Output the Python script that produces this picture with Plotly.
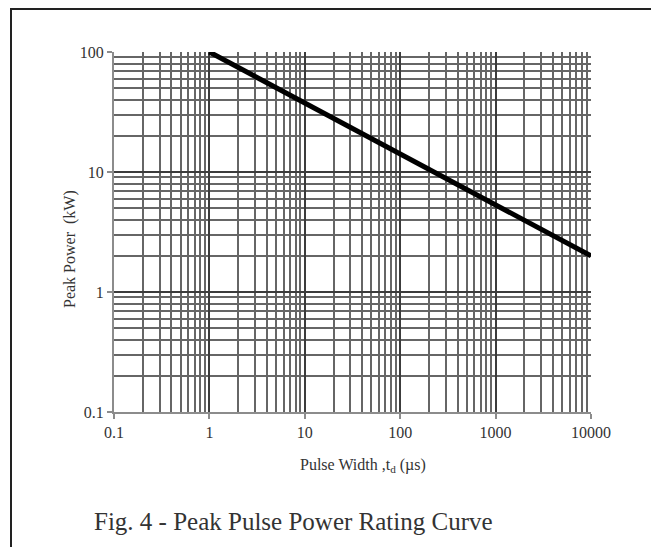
import plotly.graph_objects as go

# Data
pulse_width_us = [1, 10000]
peak_power_kw = [100, 2]
x_tick_vals = [0.1, 1, 10, 100, 1000, 10000]
x_tick_text = ["0.1", "1", "10", "100", "1000", "10000"]
y_tick_vals = [0.1, 1, 10, 100]
y_tick_text = ["0.1", "1", "10", "100"]

FONT = "Liberation Serif"
OFF = 8  # default page body margin
W, H = 659 - OFF, 547 - OFF
# target plot-area edges in page pixels
L, R, T, B = 114, 591, 52, 412

fig = go.Figure()
fig.add_trace(go.Scatter(
    x=pulse_width_us, y=peak_power_kw, mode="lines",
    line=dict(color="black", width=5), showlegend=False, hoverinfo="skip"))

grid_common = dict(
    type="log", showgrid=True, gridcolor="#3c3c3c", gridwidth=2,
    showline=True, linecolor="#8c8c8c", linewidth=2,
    ticks="outside", ticklen=5, tickcolor="#8c8c8c", tickwidth=2,
    tickfont=dict(family=FONT, size=16, color="#333"),
    zeroline=False, dtick=1,
    minor=dict(dtick="D1", showgrid=True, gridcolor="#666666", gridwidth=2, ticks=""),
)

fig.update_layout(
    width=W, height=H,
    margin=dict(l=L - OFF, r=W - (R - OFF), t=T - OFF, b=H - (B - OFF), pad=0),
    paper_bgcolor="white", plot_bgcolor="white",
    xaxis=dict(range=[-1, 4], tickvals=x_tick_vals, ticktext=x_tick_text, **grid_common),
    yaxis=dict(range=[-1, 2], tickvals=y_tick_vals, ticktext=y_tick_text, **grid_common),
    showlegend=False,
)

pw = R - L
ph = B - T
def px(xp):
    return (xp - L) / pw
def py(yp):
    return (B - yp) / ph

# outer frame
fig.add_shape(type="rect", xref="paper", yref="paper",
              x0=px(11), x1=px(653), y0=py(600), y1=py(9),
              line=dict(color="#222", width=2), layer="below")

fig.add_annotation(xref="paper", yref="paper", x=px(363), y=py(466),
                   text="Pulse Width ,t<sub>d</sub> (µs)", showarrow=False,
                   font=dict(family=FONT, size=16, color="#333"),
                   xanchor="center", yanchor="middle")
fig.add_annotation(xref="paper", yref="paper", x=px(70), y=py(249),
                   text="Peak Power  (kW)", showarrow=False, textangle=-90,
                   font=dict(family=FONT, size=16, color="#333"),
                   xanchor="center", yanchor="middle")
fig.add_annotation(xref="paper", yref="paper", x=px(92), y=py(521),
                   text="Fig. 4 - Peak Pulse Power Rating Curve", showarrow=False,
                   font=dict(family=FONT, size=25, color="#333"),
                   xanchor="left", yanchor="middle")

fig.write_html("out.html")
